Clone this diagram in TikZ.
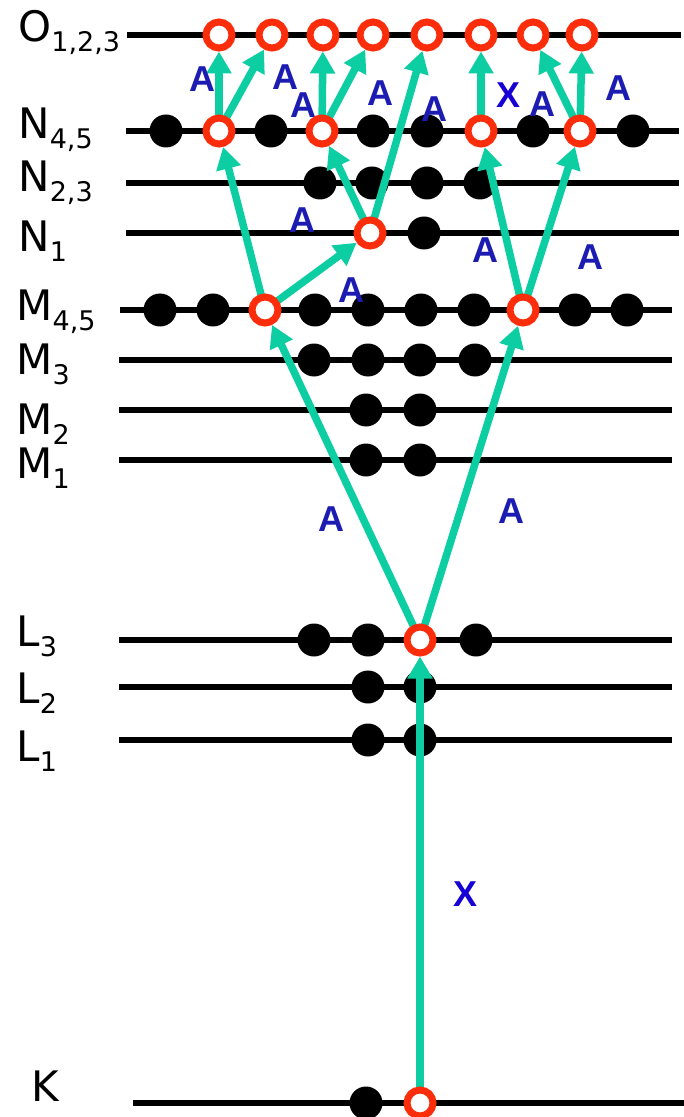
\documentclass[tikz,border=0pt]{standalone}
\usepackage{fontspec}
\setmainfont{DejaVu Sans}
\newfontfamily\lblfont{Liberation Sans}
\usetikzlibrary{arrows.meta}
\definecolor{teal1}{RGB}{12,206,162}
\definecolor{ringred}{RGB}{252,45,10}
\definecolor{ablue}{RGB}{28,28,178}
\definecolor{xblue}{RGB}{22,0,212}
\pgfdeclarelayer{bg}
\pgfdeclarelayer{fg}
\pgfsetlayers{bg,main,fg}
\newcommand\lvsub[1]{\raisebox{-5pt}{\fontsize{13.5}{13.5}\selectfont #1}}
\tikzset{
  lvlline/.style={line width=3pt, black},
  edot/.style={circle, fill=black, inner sep=0pt, minimum size=16.5pt},
  hole/.style={circle, draw=ringred, line width=3.5pt, fill=white, inner sep=0pt, minimum size=13pt},
  trans/.style={line width=3.75pt, teal1, -{Triangle[length=11pt,width=12pt]}},
  lab/.style={font=\fontsize{21}{21}\selectfont, anchor=base west, inner sep=0pt},
  tA/.style={font=\lblfont\bfseries\fontsize{18}{18}\selectfont, text=ablue, inner sep=0pt},
  tX/.style={font=\lblfont\bfseries\fontsize{18}{18}\selectfont, text=xblue, inner sep=0pt},
}
\begin{document}
\begin{tikzpicture}[x=0.5pt,y=-0.5pt]
\useasboundingbox (0,0) rectangle (684,1117);
\begin{pgfonlayer}{bg}
\fill[white] (0,0) rectangle (684,1117);
% level lines
\draw[lvlline] (127,35) -- (681,35);
\draw[lvlline] (126,131) -- (679,131);
\draw[lvlline] (126,183) -- (679,183);
\draw[lvlline] (126,233) -- (679,233);
\draw[lvlline] (120,310) -- (672,310);
\draw[lvlline] (119,360) -- (672,360);
\draw[lvlline] (119,410) -- (672,410);
\draw[lvlline] (119,460) -- (672,460);
\draw[lvlline] (119,640) -- (672,640);
\draw[lvlline] (119,687) -- (672,687);
\draw[lvlline] (119,740) -- (672,740);
\draw[lvlline] (133,1103) -- (690,1103);
% filled electrons
\foreach \x [count=\i] in {166,271,373,427,533,633} \node[edot] (n45b\i) at (\x,131) {};
\foreach \x [count=\i] in {320,372,427,480} \node[edot] (n23b\i) at (\x,183) {};
\node[edot] (n1b1) at (424,233) {};
\foreach \x [count=\i] in {160,213,315,368,421,474,575,627} \node[edot] (m45b\i) at (\x,310) {};
\foreach \x [count=\i] in {314,368,420,475} \node[edot] (m3b\i) at (\x,360) {};
\foreach \x [count=\i] in {366,420} \node[edot] (m2b\i) at (\x,410) {};
\foreach \x [count=\i] in {366,420} \node[edot] (m1b\i) at (\x,460) {};
\foreach \x [count=\i] in {314,368,476} \node[edot] (l3b\i) at (\x,640) {};
\foreach \x [count=\i] in {368,420} \node[edot] (l2b\i) at (\x,687) {};
\foreach \x [count=\i] in {368,420} \node[edot] (l1b\i) at (\x,740) {};
\node[edot] (kb1) at (366,1103) {};
\end{pgfonlayer}
% vacancies
\begin{pgfonlayer}{fg}
\foreach \x [count=\i] in {219,272,323,373,427,481,533,582} \node[hole] (o\i) at (\x,35) {};
\node[hole] (n45a) at (219,131) {};
\node[hole] (n45b) at (322,131) {};
\node[hole] (n45c) at (481,131) {};
\node[hole] (n45d) at (580,131) {};
\node[hole] (n1a) at (370,233) {};
\node[hole] (m45a) at (265,310) {};
\node[hole] (m45b) at (523,310) {};
\node[hole] (l3a) at (420,640) {};
\node[hole] (ka) at (420,1103) {};
\end{pgfonlayer}
% transitions
\draw[trans] (ka.center) -- (l3a);
\draw[trans] (l3a.center) -- (m45a);
\draw[trans] (l3a.center) -- (m45b);
\draw[trans] (m45a.center) -- (n45a);
\draw[trans] (m45a.center) -- (n1a);
\draw[trans] (n1a.center) -- (n45b);
\draw[trans] (n1a.center) -- (o5);
\draw[trans] (m45b.center) -- (n45c);
\draw[trans] (m45b.center) -- (n45d);
\draw[trans] (n45a.center) -- (o1);
\draw[trans] (n45a.center) -- (o2);
\draw[trans] (n45b.center) -- (o3);
\draw[trans] (n45b.center) -- (o4);
\draw[trans] (n45c.center) -- (o6);
\draw[trans] (n45d.center) -- (o7);
\draw[trans] (n45d.center) -- (o8);
% level labels
\node[lab] (lO) at (18,42) {O\lvsub{1,2,3}};
\node[lab] (lN45) at (18,139) {N\lvsub{4,5}};
\node[lab] (lN23) at (18,192) {N\lvsub{2,3}};
\node[lab] (lN1) at (18,252) {N\lvsub{1}};
\node[lab] (lM45) at (16,321) {M\lvsub{4,5}};
\node[lab] (lM3) at (16,374) {M\lvsub{3}};
\node[lab] (lM2) at (16,434) {M\lvsub{2}};
\node[lab] (lM1) at (16,478) {M\lvsub{1}};
\node[lab] (lL3) at (16,646) {L\lvsub{3}};
\node[lab] (lL2) at (16,703) {L\lvsub{2}};
\node[lab] (lL1) at (16,761) {L\lvsub{1}};
\node[lab] (lK) at (31,1101) {K};
% process labels
\node[tA] (a1) at (202,79) {A};
\node[tA] (a2) at (285,77) {A};
\node[tA] (a3) at (303,105) {A};
\node[tA] (a4) at (380,93) {A};
\node[tA] (a5) at (434,109) {A};
\node[tX] (x1) at (508,95) {X};
\node[tA] (a6) at (542,104) {A};
\node[tA] (a7) at (618,88) {A};
\node[tA] (a8) at (302,220) {A};
\node[tA] (a9) at (485,250) {A};
\node[tA] (a10) at (590,257) {A};
\node[tA] (a11) at (351,290) {A};
\node[tA] (a12) at (331,519) {A};
\node[tA] (a13) at (511,511) {A};
\node[tX] (x2) at (465,894) {X};
\end{tikzpicture}
\end{document}
